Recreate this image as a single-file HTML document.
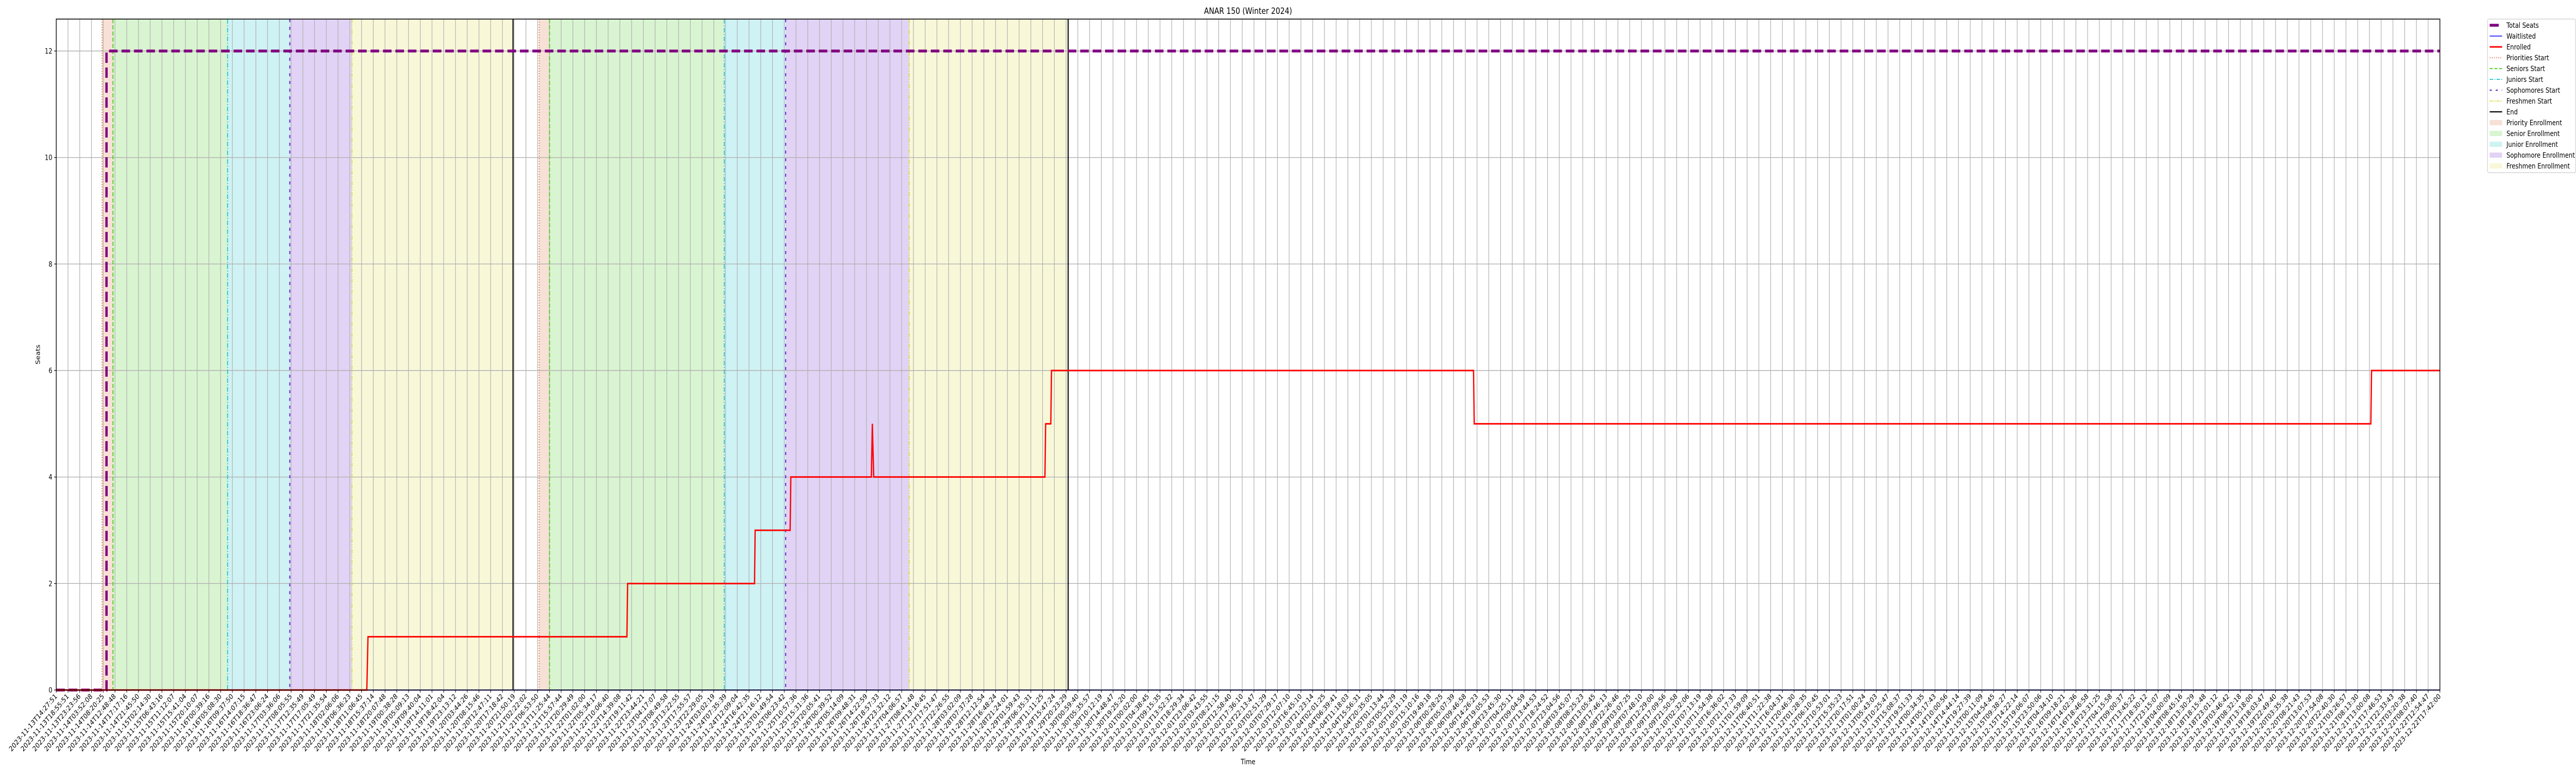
<!DOCTYPE html>
<html><head><meta charset="utf-8"><style>
html,body{margin:0;padding:0;background:#fff;overflow:hidden;width:100vw;height:100vh;}
svg{display:block;width:100vw;height:100vh;font-family:"DejaVu Sans","Liberation Sans",sans-serif;}
</style></head><body>
<svg id="chart" viewBox="0 0 6000 1500" preserveAspectRatio="none" xmlns="http://www.w3.org/2000/svg" overflow="hidden">
<g id="spans"></g>
<g id="grid"></g>
<g id="vlines"></g>
<g id="series"></g>
<g id="axes"></g>
<text x="2907" y="27" font-size="16.7" text-anchor="middle">ANAR 150 (Winter 2024)</text>
<text x="0" y="0" font-size="13.9" text-anchor="middle" transform="translate(93,688) rotate(-90)">Seats</text>
<text x="2907" y="1483" font-size="13.9" text-anchor="middle">Time</text>
<g id="legend"></g>
</svg>
<script>
// ---- data (x in tick-index units) ----
const startLabel = "2023-11-13T14:27:51";
const endLabel = "2023-12-22T17:42:00";
const tickCount = 204;
const yTicks = [0, 2, 4, 6, 8, 10, 12];
const seatsT = [0, 4.28, 4.28, 203];
const seatsV = [0, 0, 12, 12];
const waitT = [0, 203];
const waitV = [0, 0];
const enrollT = [0, 26.45, 26.55, 48.6, 48.66, 59.47, 59.52, 62.5, 62.56, 69.42, 69.5, 69.62, 84.2, 84.26, 84.7, 84.76, 120.7, 120.76, 197.12, 197.18, 203];
const enrollV = [0, 0, 1, 1, 2, 2, 3, 3, 4, 4, 5, 4, 4, 5, 5, 6, 6, 5, 5, 6, 6];
const priorityStarts = [3.91, 41.13];
const seniorStarts = [4.83, 42.01];
const juniorStarts = [14.59, 56.89];
const sophStarts = [19.89, 62.12];
const freshStarts = [25.19, 72.65];
const endTimes = [38.90, 86.18];

// ---- axes ----
const L = 131, R = 5683, T = 37, B = 1339;
const xMax = 203, yMax = 12.6;
const X = v => L + v / xMax * (R - L);
const Y = v => B - v / yMax * (B - T);
const NS = "http://www.w3.org/2000/svg";
function mk(tag, attrs, parent) {
  const e = document.createElementNS(NS, tag);
  for (const k in attrs) e.setAttribute(k, attrs[k]);
  parent.appendChild(e);
  return e;
}
const spans = document.getElementById('spans');
const grid = document.getElementById('grid');
const vlines = document.getElementById('vlines');
const series = document.getElementById('series');
const axes = document.getElementById('axes');

const spanDefs = [
  ['priority', priorityStarts, seniorStarts, '#f7e0d5'],
  ['senior', seniorStarts, juniorStarts, '#d9f4d1'],
  ['junior', juniorStarts, sophStarts, '#cff2f4'],
  ['sophomore', sophStarts, freshStarts, '#e1d3f5'],
  ['freshmen', freshStarts, endTimes, '#f8f8d9']
];
spanDefs.forEach(([nm, a, b, c]) => {
  for (let i = 0; i < a.length; i++) {
    const r = mk('rect', {x: X(a[i]), y: T, width: X(b[i]) - X(a[i]), height: B - T, fill: c}, spans);
    
    
  }
});

for (let i = 0; i < tickCount; i++) {
  const g = mk('line', {x1: X(i), x2: X(i), y1: T, y2: B, stroke: '#b0b0b0', 'stroke-width': 1.4}, grid);
  
  
}
yTicks.forEach(v => {
  const g = mk('line', {x1: L, x2: R, y1: Y(v), y2: Y(v), stroke: '#b0b0b0', 'stroke-width': 1.4}, grid);
  
  
});

const lineDefs = [
  ['priorities-start-line', priorityStarts, '#e8743b', '2,3', 2],
  ['seniors-start-line', seniorStarts, '#3ccc14', '8,4', 2],
  ['juniors-start-line', juniorStarts, '#17c3cf', '9,3,2,3', 2],
  ['sophomores-start-line', sophStarts, '#6a2bd6', '6,9', 2.5],
  ['freshmen-start-line', freshStarts, '#dcdc30', '8,3,2,3,2,3', 2],
  ['end-line', endTimes, '#000', 'none', 2.5]
];
lineDefs.forEach(([nm, arr, c, d, w]) => {
  arr.forEach(v => {
    const l = mk('line', {x1: X(v), x2: X(v), y1: T, y2: B, stroke: c, 'stroke-width': w, 'stroke-dasharray': d}, vlines);
    
    
  });
});

function pts(t, v) { return t.map((x, i) => X(x).toFixed(2) + ',' + Y(v[i]).toFixed(2)).join(' '); }
const wl = mk('polyline', {points: pts(waitT, waitV), fill: 'none', stroke: '#0000ff', 'stroke-width': 2}, series);


const ts = mk('polyline', {points: pts(seatsT, seatsV), fill: 'none', stroke: '#800080', 'stroke-width': 5.5, 'stroke-dasharray': '20,9'}, series);


const en = mk('polyline', {points: pts(enrollT, enrollV), fill: 'none', stroke: '#ff0000', 'stroke-width': 3, 'stroke-linejoin': 'miter'}, series);



const fr = mk('rect', {x: L, y: T, width: R - L, height: B - T, fill: 'none', stroke: '#000', 'stroke-width': 1.6}, axes);



yTicks.forEach(v => {
  const t = mk('line', {x1: L - 5, x2: L, y1: Y(v), y2: Y(v), stroke: '#000', 'stroke-width': 1.2}, axes);
  
  
  const tx = mk('text', {x: L - 9, y: Y(v) + 5, 'font-size': 13.9, 'text-anchor': 'end'}, axes);
  
  
  tx.textContent = v;
});

const startMs = Date.parse(startLabel + 'Z');
const endMs = Date.parse(endLabel + 'Z');
const n = tickCount - 1;
const a = 16080;
const total = (endMs - startMs) / 1000;
const b = 2 * (total / n - a) / (n - 1);
let cur = startMs;
function fmt(ms) { return new Date(ms).toISOString().slice(0, 19); }
for (let i = 0; i < tickCount; i++) {
  let lab = i === 0 ? startLabel : (i === n ? endLabel : fmt(cur));
  const t = mk('line', {x1: X(i), x2: X(i), y1: B, y2: B + 5, stroke: '#000', 'stroke-width': 1.2}, axes);
  
  
  const tx = mk('text', {'font-size': 13.9, 'text-anchor': 'end', transform: `translate(${X(i) + 3},${B + 13}) rotate(-45)`}, axes);
  
  
  tx.textContent = lab;
  cur += (a + b * i) * 1000;
}

const leg = document.getElementById('legend');
const box = mk('rect', {x: 5794, y: 37, width: 205, height: 298, rx: 3, fill: '#fff', stroke: '#cccccc', 'stroke-width': 1.2}, leg);


const legItems = [
  ['Total Seats', 'line', '#800080', 'none', 5.5],
  ['Waitlisted', 'line', '#0000ff', 'none', 1.5],
  ['Enrolled', 'line', '#ff0000', 'none', 3],
  ['Priorities Start', 'line', '#e8743b', '2,3', 1.8],
  ['Seniors Start', 'line', '#3ccc14', '7,4', 1.8],
  ['Juniors Start', 'line', '#17c3cf', '8,3,2,3', 1.8],
  ['Sophomores Start', 'line', '#6a2bd6', '5,9', 2.2],
  ['Freshmen Start', 'line', '#dcdc30', '6,2,2,2,2,2', 1.8],
  ['End', 'line', '#000', 'none', 2.2],
  ['Priority Enrollment', 'patch', '#f7e0d5'],
  ['Senior Enrollment', 'patch', '#d9f4d1'],
  ['Junior Enrollment', 'patch', '#cff2f4'],
  ['Sophomore Enrollment', 'patch', '#e1d3f5'],
  ['Freshmen Enrollment', 'patch', '#f8f8d9']
];
legItems.forEach((it, i) => {
  const y = 49 + i * 21;
  if (it[1] === 'line') {
    const x2 = i === 0 ? 5820 : 5828;
    const l = mk('line', {x1: 5799, x2: x2, y1: y, y2: y, stroke: it[2], 'stroke-width': it[4], 'stroke-dasharray': it[3]}, leg);
    
    
  } else {
    const r = mk('rect', {x: 5799, y: y - 5, width: 29, height: 10, fill: it[2]}, leg);
    
    
  }
  const tx = mk('text', {x: 5838, y: y + 5, 'font-size': 13.9}, leg);
  
  
  tx.textContent = it[0];
});
</script>
</body></html>
